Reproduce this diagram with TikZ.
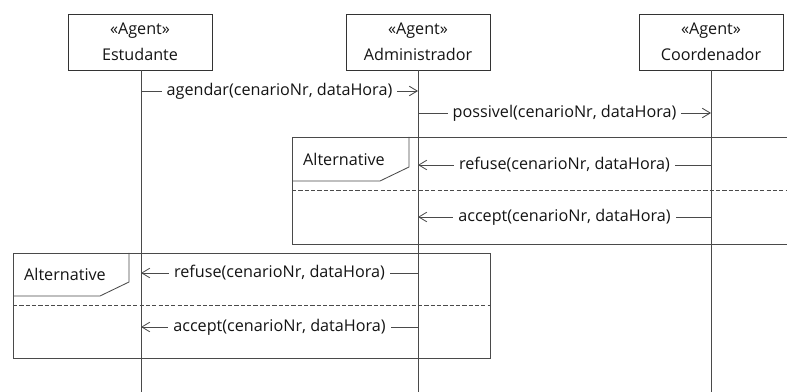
\documentclass[tikz,border=0pt]{standalone}
\usepackage{fontspec}
\setmainfont{Open Sans}
\usepackage{xcolor}
\usepackage{tikz}
\usetikzlibrary{arrows.meta,calc,positioning}
\definecolor{umlgray}{HTML}{4A4A4A}
\definecolor{umltext}{HTML}{141414}

\begin{document}
\begin{tikzpicture}[x=0.025cm,y=-0.025cm,
  agent/.style={draw=black!80,align=center,minimum width=3.6cm,
                minimum height=1.4cm,inner sep=0pt,text=umltext,
                font=\fontsize{11.5}{18.5}\selectfont},
  life/.style={umlgray,semithick},
  msg/.style={umlgray,semithick,-{Straight Barb[length=2mm,width=2.4mm]}},
  lab/.style={font=\fontsize{11.5}{13}\selectfont,text=umltext,fill=white,
              inner sep=3.5pt},
  frm/.style={draw=umlgray,semithick},
  sep/.style={umlgray,semithick,dashed,dash pattern=on 3pt off 1.5pt}]
  \useasboundingbox (0,0) rectangle (787,392);
  % lifeline heads
  \node[agent] (est) at (140,42) {«Agent»\\Estudante};
  \node[agent] (adm) at (418,42) {«Agent»\\Administrador};
  \node[agent] (coo) at (711,42) {«Agent»\\Coordenador};
  \coordinate (estEnd) at (141,392);
  \coordinate (admEnd) at (418,392);
  \coordinate (cooEnd) at (711,392);
  \draw[life] (est.south -| estEnd) -- (estEnd);
  \draw[life] (adm.south) -- (admEnd);
  \draw[life] (coo.south) -- (cooEnd);
  % message points on the lifelines
  \coordinate (e1) at (141,91);  \coordinate (a1) at (418,91);
  \coordinate (a2) at (418,113); \coordinate (c2) at (711,113);
  \coordinate (a3) at (418,165); \coordinate (c3) at (711,165);
  \coordinate (a4) at (418,217); \coordinate (c4) at (711,217);
  \coordinate (e5) at (141,273); \coordinate (a5) at (418,273);
  \coordinate (e6) at (141,327); \coordinate (a6) at (418,327);
  % alternative frames
  \draw[frm] (787,137) -- (292,137) -- (292,244) -- (787,244);
  \draw[frm] (409,137) -- (409,167) -- (380,181) -- (292,181);
  \draw[sep] (292,190) -- (787,190);
  \node[lab,fill=none,anchor=west] (alt1) at (298,159) {Alternative};
  \draw[frm] (13,253) rectangle (490,358);
  \draw[frm] (129,253) -- (129,282) -- (100,296) -- (13,296);
  \draw[sep] (13,305) -- (490,305);
  \node[lab,fill=none,anchor=west] (alt2) at (19,274) {Alternative};
  % messages
  \draw[msg] (e1) -- node[lab] {agendar(cenarioNr, dataHora)} (a1);
  \draw[msg] (a2) -- node[lab] {possivel(cenarioNr, dataHora)} (c2);
  \draw[msg] (c3) -- node[lab] {refuse(cenarioNr, dataHora)} (a3);
  \draw[msg] (c4) -- node[lab] {accept(cenarioNr, dataHora)} (a4);
  \draw[msg] (a5) -- node[lab] {refuse(cenarioNr, dataHora)} (e5);
  \draw[msg] (a6) -- node[lab] {accept(cenarioNr, dataHora)} (e6);
\end{tikzpicture}
\end{document}
